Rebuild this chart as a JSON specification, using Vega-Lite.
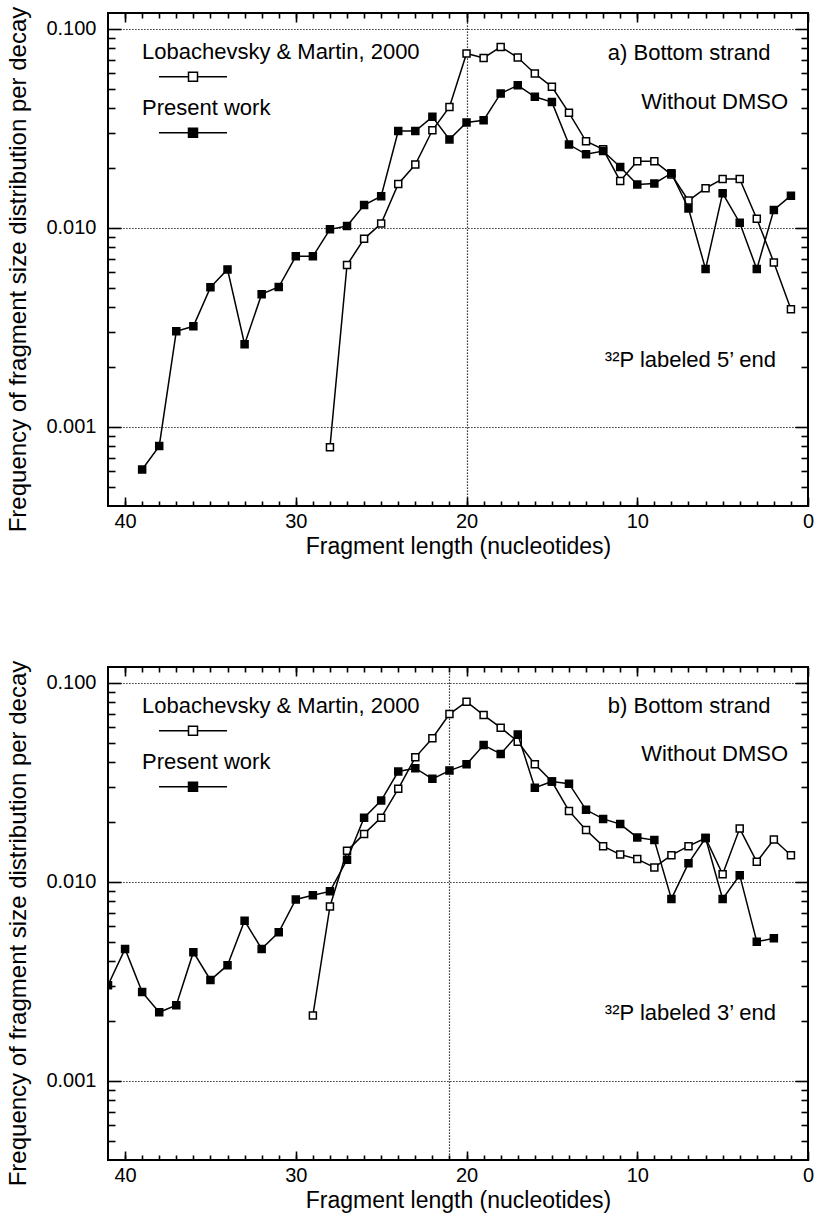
{
  "$schema": "https://vega.github.io/schema/vega-lite/v6.json",
  "background": "white",
  "padding": {"left": 5, "top": 5, "right": 5, "bottom": 3},
  "spacing": 100,
  "config": {
    "font": "Liberation Sans",
    "view": {"stroke": "black", "strokeWidth": 2},
    "axis": {
      "labelFont": "Liberation Sans",
      "titleFont": "Liberation Sans",
      "labelColor": "black",
      "titleColor": "black",
      "tickColor": "black",
      "tickWidth": 1.6,
      "ticks": true,
      "domain": false,
      "grid": false,
      "labelFontSize": 20,
      "titleFontSize": 23,
      "titleFontWeight": "normal",
      "labelFlush": false,
      "labelOverlap": false
    },
    "text": {"font": "Liberation Sans", "fontSize": 22, "color": "black"}
  },
  "datasets": {
    "a": [
      {"len": 28, "freq": 0.00079, "series": "Lobachevsky & Martin, 2000"},
      {"len": 27, "freq": 0.0065, "series": "Lobachevsky & Martin, 2000"},
      {"len": 26, "freq": 0.0088, "series": "Lobachevsky & Martin, 2000"},
      {"len": 25, "freq": 0.0105, "series": "Lobachevsky & Martin, 2000"},
      {"len": 24, "freq": 0.0166, "series": "Lobachevsky & Martin, 2000"},
      {"len": 23, "freq": 0.0208, "series": "Lobachevsky & Martin, 2000"},
      {"len": 22, "freq": 0.0309, "series": "Lobachevsky & Martin, 2000"},
      {"len": 21, "freq": 0.0405, "series": "Lobachevsky & Martin, 2000"},
      {"len": 20, "freq": 0.0751, "series": "Lobachevsky & Martin, 2000"},
      {"len": 19, "freq": 0.0714, "series": "Lobachevsky & Martin, 2000"},
      {"len": 18, "freq": 0.081, "series": "Lobachevsky & Martin, 2000"},
      {"len": 17, "freq": 0.0717, "series": "Lobachevsky & Martin, 2000"},
      {"len": 16, "freq": 0.0596, "series": "Lobachevsky & Martin, 2000"},
      {"len": 15, "freq": 0.0511, "series": "Lobachevsky & Martin, 2000"},
      {"len": 14, "freq": 0.0378, "series": "Lobachevsky & Martin, 2000"},
      {"len": 13, "freq": 0.0272, "series": "Lobachevsky & Martin, 2000"},
      {"len": 12, "freq": 0.0248, "series": "Lobachevsky & Martin, 2000"},
      {"len": 11, "freq": 0.0172, "series": "Lobachevsky & Martin, 2000"},
      {"len": 10, "freq": 0.0216, "series": "Lobachevsky & Martin, 2000"},
      {"len": 9, "freq": 0.0216, "series": "Lobachevsky & Martin, 2000"},
      {"len": 8, "freq": 0.0185, "series": "Lobachevsky & Martin, 2000"},
      {"len": 7, "freq": 0.0137, "series": "Lobachevsky & Martin, 2000"},
      {"len": 6, "freq": 0.0158, "series": "Lobachevsky & Martin, 2000"},
      {"len": 5, "freq": 0.0176, "series": "Lobachevsky & Martin, 2000"},
      {"len": 4, "freq": 0.0176, "series": "Lobachevsky & Martin, 2000"},
      {"len": 3, "freq": 0.0111, "series": "Lobachevsky & Martin, 2000"},
      {"len": 2, "freq": 0.0067, "series": "Lobachevsky & Martin, 2000"},
      {"len": 1, "freq": 0.0039, "series": "Lobachevsky & Martin, 2000"},
      {"len": 39, "freq": 0.00061, "series": "Present work"},
      {"len": 38, "freq": 0.0008, "series": "Present work"},
      {"len": 37, "freq": 0.00302, "series": "Present work"},
      {"len": 36, "freq": 0.0032, "series": "Present work"},
      {"len": 35, "freq": 0.00502, "series": "Present work"},
      {"len": 34, "freq": 0.00618, "series": "Present work"},
      {"len": 33, "freq": 0.0026, "series": "Present work"},
      {"len": 32, "freq": 0.00464, "series": "Present work"},
      {"len": 31, "freq": 0.00504, "series": "Present work"},
      {"len": 30, "freq": 0.00719, "series": "Present work"},
      {"len": 29, "freq": 0.00719, "series": "Present work"},
      {"len": 28, "freq": 0.00982, "series": "Present work"},
      {"len": 27, "freq": 0.0102, "series": "Present work"},
      {"len": 26, "freq": 0.013, "series": "Present work"},
      {"len": 25, "freq": 0.0144, "series": "Present work"},
      {"len": 24, "freq": 0.0306, "series": "Present work"},
      {"len": 23, "freq": 0.0306, "series": "Present work"},
      {"len": 22, "freq": 0.0361, "series": "Present work"},
      {"len": 21, "freq": 0.0278, "series": "Present work"},
      {"len": 20, "freq": 0.0338, "series": "Present work"},
      {"len": 19, "freq": 0.0347, "series": "Present work"},
      {"len": 18, "freq": 0.0473, "series": "Present work"},
      {"len": 17, "freq": 0.052, "series": "Present work"},
      {"len": 16, "freq": 0.0455, "series": "Present work"},
      {"len": 15, "freq": 0.0428, "series": "Present work"},
      {"len": 14, "freq": 0.0262, "series": "Present work"},
      {"len": 13, "freq": 0.0234, "series": "Present work"},
      {"len": 12, "freq": 0.0243, "series": "Present work"},
      {"len": 11, "freq": 0.0202, "series": "Present work"},
      {"len": 10, "freq": 0.0165, "series": "Present work"},
      {"len": 9, "freq": 0.0167, "series": "Present work"},
      {"len": 8, "freq": 0.0188, "series": "Present work"},
      {"len": 7, "freq": 0.0125, "series": "Present work"},
      {"len": 6, "freq": 0.0062, "series": "Present work"},
      {"len": 5, "freq": 0.0149, "series": "Present work"},
      {"len": 4, "freq": 0.0106, "series": "Present work"},
      {"len": 3, "freq": 0.0062, "series": "Present work"},
      {"len": 2, "freq": 0.0123, "series": "Present work"},
      {"len": 1, "freq": 0.0145, "series": "Present work"}
    ],
    "b": [
      {"len": 29, "freq": 0.00213, "series": "Lobachevsky & Martin, 2000"},
      {"len": 28, "freq": 0.00752, "series": "Lobachevsky & Martin, 2000"},
      {"len": 27, "freq": 0.0143, "series": "Lobachevsky & Martin, 2000"},
      {"len": 26, "freq": 0.0174, "series": "Lobachevsky & Martin, 2000"},
      {"len": 25, "freq": 0.021, "series": "Lobachevsky & Martin, 2000"},
      {"len": 24, "freq": 0.0293, "series": "Lobachevsky & Martin, 2000"},
      {"len": 23, "freq": 0.0422, "series": "Lobachevsky & Martin, 2000"},
      {"len": 22, "freq": 0.0526, "series": "Lobachevsky & Martin, 2000"},
      {"len": 21, "freq": 0.0696, "series": "Lobachevsky & Martin, 2000"},
      {"len": 20, "freq": 0.0803, "series": "Lobachevsky & Martin, 2000"},
      {"len": 19, "freq": 0.0688, "series": "Lobachevsky & Martin, 2000"},
      {"len": 18, "freq": 0.0595, "series": "Lobachevsky & Martin, 2000"},
      {"len": 17, "freq": 0.0506, "series": "Lobachevsky & Martin, 2000"},
      {"len": 16, "freq": 0.0389, "series": "Lobachevsky & Martin, 2000"},
      {"len": 15, "freq": 0.0319, "series": "Lobachevsky & Martin, 2000"},
      {"len": 14, "freq": 0.0227, "series": "Lobachevsky & Martin, 2000"},
      {"len": 13, "freq": 0.0182, "series": "Lobachevsky & Martin, 2000"},
      {"len": 12, "freq": 0.0151, "series": "Lobachevsky & Martin, 2000"},
      {"len": 11, "freq": 0.0137, "series": "Lobachevsky & Martin, 2000"},
      {"len": 10, "freq": 0.013, "series": "Lobachevsky & Martin, 2000"},
      {"len": 9, "freq": 0.0118, "series": "Lobachevsky & Martin, 2000"},
      {"len": 8, "freq": 0.0136, "series": "Lobachevsky & Martin, 2000"},
      {"len": 7, "freq": 0.0151, "series": "Lobachevsky & Martin, 2000"},
      {"len": 6, "freq": 0.0166, "series": "Lobachevsky & Martin, 2000"},
      {"len": 5, "freq": 0.0109, "series": "Lobachevsky & Martin, 2000"},
      {"len": 4, "freq": 0.0185, "series": "Lobachevsky & Martin, 2000"},
      {"len": 3, "freq": 0.0126, "series": "Lobachevsky & Martin, 2000"},
      {"len": 2, "freq": 0.0163, "series": "Lobachevsky & Martin, 2000"},
      {"len": 1, "freq": 0.0136, "series": "Lobachevsky & Martin, 2000"},
      {"len": 41, "freq": 0.00302, "series": "Present work"},
      {"len": 40, "freq": 0.0046, "series": "Present work"},
      {"len": 39, "freq": 0.00279, "series": "Present work"},
      {"len": 38, "freq": 0.00221, "series": "Present work"},
      {"len": 37, "freq": 0.0024, "series": "Present work"},
      {"len": 36, "freq": 0.00443, "series": "Present work"},
      {"len": 35, "freq": 0.00321, "series": "Present work"},
      {"len": 34, "freq": 0.00381, "series": "Present work"},
      {"len": 33, "freq": 0.00637, "series": "Present work"},
      {"len": 32, "freq": 0.0046, "series": "Present work"},
      {"len": 31, "freq": 0.00557, "series": "Present work"},
      {"len": 30, "freq": 0.00815, "series": "Present work"},
      {"len": 29, "freq": 0.00855, "series": "Present work"},
      {"len": 28, "freq": 0.00895, "series": "Present work"},
      {"len": 27, "freq": 0.0129, "series": "Present work"},
      {"len": 26, "freq": 0.021, "series": "Present work"},
      {"len": 25, "freq": 0.0256, "series": "Present work"},
      {"len": 24, "freq": 0.0358, "series": "Present work"},
      {"len": 23, "freq": 0.0372, "series": "Present work"},
      {"len": 22, "freq": 0.0329, "series": "Present work"},
      {"len": 21, "freq": 0.0362, "series": "Present work"},
      {"len": 20, "freq": 0.0389, "series": "Present work"},
      {"len": 19, "freq": 0.0486, "series": "Present work"},
      {"len": 18, "freq": 0.0439, "series": "Present work"},
      {"len": 17, "freq": 0.055, "series": "Present work"},
      {"len": 16, "freq": 0.0297, "series": "Present work"},
      {"len": 15, "freq": 0.0319, "series": "Present work"},
      {"len": 14, "freq": 0.0311, "series": "Present work"},
      {"len": 13, "freq": 0.023, "series": "Present work"},
      {"len": 12, "freq": 0.0207, "series": "Present work"},
      {"len": 11, "freq": 0.0195, "series": "Present work"},
      {"len": 10, "freq": 0.0167, "series": "Present work"},
      {"len": 9, "freq": 0.0162, "series": "Present work"},
      {"len": 8, "freq": 0.0082, "series": "Present work"},
      {"len": 7, "freq": 0.0124, "series": "Present work"},
      {"len": 6, "freq": 0.0166, "series": "Present work"},
      {"len": 5, "freq": 0.0082, "series": "Present work"},
      {"len": 4, "freq": 0.0108, "series": "Present work"},
      {"len": 3, "freq": 0.005, "series": "Present work"},
      {"len": 2, "freq": 0.0052, "series": "Present work"}
    ]
  },
  "resolve": {"scale": {"fill": "independent"}, "legend": {"fill": "independent"}},
  "vconcat": [
    {
      "width": 700,
      "height": 493,
      "data": {"name": "a"},
      "resolve": {"axis": {"x": "independent", "y": "independent"}},
      "layer": [
        {
          "transform": [{"filter": "datum.series === 'Lobachevsky & Martin, 2000'"}],
          "mark": {"type": "line", "color": "black", "strokeWidth": 1.5, "clip": true},
          "encoding": {
            "x": {"field": "len", "type": "quantitative", "scale": {"domain": [0, 41], "reverse": true, "nice": false, "zero": false},
              "axis": {"orient": "bottom", "values": [0, 10, 20, 30, 40], "offset": -9, "tickSize": 9, "labelPadding": 5, "title": "Fragment length (nucleotides)", "titlePadding": 4}},
            "y": {"field": "freq", "type": "quantitative", "scale": {"type": "log", "domain": [0.0004, 0.12], "nice": false},
              "axis": {"orient": "left", "values": [0.001, 0.01, 0.1], "format": ".3f", "offset": -13, "tickSize": 13, "labelPadding": 12, "title": "Frequency of fragment size distribution per decay", "titleFontSize": 24, "titleY": 256, "titlePadding": 15, "grid": true, "gridColor": "black", "gridDash": [1.2, 1.8], "gridWidth": 1.2}}
          }
        },
        {
          "transform": [{"filter": "datum.series === 'Lobachevsky & Martin, 2000'"}],
          "mark": {"type": "point", "shape": "square", "filled": true, "stroke": "black", "strokeWidth": 1.5, "size": 49, "opacity": 1, "clip": true},
          "encoding": {
            "x": {"field": "len", "type": "quantitative", "scale": {"domain": [0, 41], "reverse": true, "nice": false, "zero": false},
              "axis": {"orient": "bottom", "values": [1,2,3,4,5,6,7,8,9,10,11,12,13,14,15,16,17,18,19,20,21,22,23,24,25,26,27,28,29,30,31,32,33,34,35,36,37,38,39,40], "offset": -5, "tickSize": 5, "labels": false, "title": null, "grid": true, "gridColor": "black", "gridDash": [1.2, 1.8], "gridWidth": 1.2, "gridOpacity": {"condition": {"test": "datum.value === 20", "value": 1}, "value": 0}}},
            "y": {"field": "freq", "type": "quantitative", "scale": {"type": "log", "domain": [0.0004, 0.12], "nice": false},
              "axis": {"orient": "left", "values": [0.0005,0.0006,0.0007,0.0008,0.0009,0.002,0.003,0.004,0.005,0.006,0.007,0.008,0.009,0.02,0.03,0.04,0.05,0.06,0.07,0.08,0.09], "offset": -7, "tickSize": 7, "labels": false, "title": null}},
            "fill": {"field": "series", "type": "nominal",
              "scale": {"domain": ["Lobachevsky & Martin, 2000", "Present work"], "range": ["white", "black"]},
              "legend": {"orient": "none", "legendX": 74, "legendY": 35, "title": null, "padding": 0, "symbolType": "M-3.4,1.77H-0.45M0.45,1.77H3.4M-0.45,1.32H0.45V2.22H-0.45Z", "symbolSize": 400, "symbolStrokeWidth": 1.5, "symbolStrokeColor": "black", "labelFont": "Liberation Sans", "labelFontSize": 22, "labelColor": "black", "labelOffset": -62, "labelBaseline": "alphabetic", "labelLimit": 400, "rowPadding": 12}}
          }
        },
        {
          "transform": [{"filter": "datum.series === 'Present work'"}],
          "mark": {"type": "line", "color": "black", "strokeWidth": 1.5, "clip": true},
          "encoding": {
            "x": {"field": "len", "type": "quantitative", "scale": {"domain": [0, 41], "reverse": true, "nice": false, "zero": false},
              "axis": {"orient": "top", "values": [0, 10, 20, 30, 40], "offset": -9, "tickSize": 9, "labels": false, "title": null}},
            "y": {"field": "freq", "type": "quantitative", "scale": {"type": "log", "domain": [0.0004, 0.12], "nice": false},
              "axis": {"orient": "right", "values": [0.001, 0.01, 0.1], "offset": -13, "tickSize": 13, "labels": false, "title": null}}
          }
        },
        {
          "transform": [{"filter": "datum.series === 'Present work'"}],
          "mark": {"type": "point", "shape": "square", "filled": true, "stroke": "black", "strokeWidth": 1.5, "size": 49, "opacity": 1, "clip": true},
          "encoding": {
            "x": {"field": "len", "type": "quantitative", "scale": {"domain": [0, 41], "reverse": true, "nice": false, "zero": false},
              "axis": {"orient": "top", "values": [1,2,3,4,5,6,7,8,9,10,11,12,13,14,15,16,17,18,19,20,21,22,23,24,25,26,27,28,29,30,31,32,33,34,35,36,37,38,39,40], "offset": -5, "tickSize": 5, "labels": false, "title": null}},
            "y": {"field": "freq", "type": "quantitative", "scale": {"type": "log", "domain": [0.0004, 0.12], "nice": false},
              "axis": {"orient": "right", "values": [0.0005,0.0006,0.0007,0.0008,0.0009,0.002,0.003,0.004,0.005,0.006,0.007,0.008,0.009,0.02,0.03,0.04,0.05,0.06,0.07,0.08,0.09], "offset": -7, "tickSize": 7, "labels": false, "title": null}},
            "fill": {"field": "series", "type": "nominal",
              "scale": {"domain": ["Lobachevsky & Martin, 2000", "Present work"], "range": ["white", "black"]},
              "legend": {"orient": "none", "legendX": 74, "legendY": 35, "title": null, "padding": 0, "symbolType": "M-3.4,1.77H-0.45M0.45,1.77H3.4M-0.45,1.32H0.45V2.22H-0.45Z", "symbolSize": 400, "symbolStrokeWidth": 1.5, "symbolStrokeColor": "black", "labelFont": "Liberation Sans", "labelFontSize": 22, "labelColor": "black", "labelOffset": -62, "labelBaseline": "alphabetic", "labelLimit": 400, "rowPadding": 12}}
          }
        },
        {
          "data": {"values": [{}]},
          "mark": {"type": "text", "align": "right", "baseline": "alphabetic"},
          "encoding": {
            "x": {"datum": 2.2, "type": "quantitative", "scale": {"domain": [0, 41], "reverse": true, "nice": false, "zero": false}, "axis": null},
            "y": {"datum": 0.0695, "type": "quantitative", "scale": {"type": "log", "domain": [0.0004, 0.12], "nice": false}, "axis": null},
            "text": {"value": "a) Bottom strand"}
          }
        },
        {
          "data": {"values": [{}]},
          "mark": {"type": "text", "align": "right", "baseline": "alphabetic"},
          "encoding": {
            "x": {"datum": 1.17, "type": "quantitative", "scale": {"domain": [0, 41], "reverse": true, "nice": false, "zero": false}, "axis": null},
            "y": {"datum": 0.0394, "type": "quantitative", "scale": {"type": "log", "domain": [0.0004, 0.12], "nice": false}, "axis": null},
            "text": {"value": "Without DMSO"}
          }
        },
        {
          "data": {"values": [{}]},
          "mark": {"type": "text", "align": "right", "baseline": "alphabetic"},
          "encoding": {
            "x": {"datum": 1.87, "type": "quantitative", "scale": {"domain": [0, 41], "reverse": true, "nice": false, "zero": false}, "axis": null},
            "y": {"datum": 0.002, "type": "quantitative", "scale": {"type": "log", "domain": [0.0004, 0.12], "nice": false}, "axis": null},
            "text": {"value": "³²P labeled 5’ end"}
          }
        }
      ]
    },
    {
      "width": 700,
      "height": 493,
      "data": {"name": "b"},
      "resolve": {"axis": {"x": "independent", "y": "independent"}},
      "layer": [
        {
          "transform": [{"filter": "datum.series === 'Lobachevsky & Martin, 2000'"}],
          "mark": {"type": "line", "color": "black", "strokeWidth": 1.5, "clip": true},
          "encoding": {
            "x": {"field": "len", "type": "quantitative", "scale": {"domain": [0, 41], "reverse": true, "nice": false, "zero": false},
              "axis": {"orient": "bottom", "values": [0, 10, 20, 30, 40], "offset": -9, "tickSize": 9, "labelPadding": 5, "title": "Fragment length (nucleotides)", "titlePadding": 4}},
            "y": {"field": "freq", "type": "quantitative", "scale": {"type": "log", "domain": [0.0004, 0.12], "nice": false},
              "axis": {"orient": "left", "values": [0.001, 0.01, 0.1], "format": ".3f", "offset": -13, "tickSize": 13, "labelPadding": 12, "title": "Frequency of fragment size distribution per decay", "titleFontSize": 24, "titleY": 256, "titlePadding": 15, "grid": true, "gridColor": "black", "gridDash": [1.2, 1.8], "gridWidth": 1.2}}
          }
        },
        {
          "transform": [{"filter": "datum.series === 'Lobachevsky & Martin, 2000'"}],
          "mark": {"type": "point", "shape": "square", "filled": true, "stroke": "black", "strokeWidth": 1.5, "size": 49, "opacity": 1, "clip": true},
          "encoding": {
            "x": {"field": "len", "type": "quantitative", "scale": {"domain": [0, 41], "reverse": true, "nice": false, "zero": false},
              "axis": {"orient": "bottom", "values": [1,2,3,4,5,6,7,8,9,10,11,12,13,14,15,16,17,18,19,20,21,22,23,24,25,26,27,28,29,30,31,32,33,34,35,36,37,38,39,40], "offset": -5, "tickSize": 5, "labels": false, "title": null, "grid": true, "gridColor": "black", "gridDash": [1.2, 1.8], "gridWidth": 1.2, "gridOpacity": {"condition": {"test": "datum.value === 21", "value": 1}, "value": 0}}},
            "y": {"field": "freq", "type": "quantitative", "scale": {"type": "log", "domain": [0.0004, 0.12], "nice": false},
              "axis": {"orient": "left", "values": [0.0005,0.0006,0.0007,0.0008,0.0009,0.002,0.003,0.004,0.005,0.006,0.007,0.008,0.009,0.02,0.03,0.04,0.05,0.06,0.07,0.08,0.09], "offset": -7, "tickSize": 7, "labels": false, "title": null}},
            "fill": {"field": "series", "type": "nominal",
              "scale": {"domain": ["Lobachevsky & Martin, 2000", "Present work"], "range": ["white", "black"]},
              "legend": {"orient": "none", "legendX": 74, "legendY": 35, "title": null, "padding": 0, "symbolType": "M-3.4,1.77H-0.45M0.45,1.77H3.4M-0.45,1.32H0.45V2.22H-0.45Z", "symbolSize": 400, "symbolStrokeWidth": 1.5, "symbolStrokeColor": "black", "labelFont": "Liberation Sans", "labelFontSize": 22, "labelColor": "black", "labelOffset": -62, "labelBaseline": "alphabetic", "labelLimit": 400, "rowPadding": 12}}
          }
        },
        {
          "transform": [{"filter": "datum.series === 'Present work'"}],
          "mark": {"type": "line", "color": "black", "strokeWidth": 1.5, "clip": true},
          "encoding": {
            "x": {"field": "len", "type": "quantitative", "scale": {"domain": [0, 41], "reverse": true, "nice": false, "zero": false},
              "axis": {"orient": "top", "values": [0, 10, 20, 30, 40], "offset": -9, "tickSize": 9, "labels": false, "title": null}},
            "y": {"field": "freq", "type": "quantitative", "scale": {"type": "log", "domain": [0.0004, 0.12], "nice": false},
              "axis": {"orient": "right", "values": [0.001, 0.01, 0.1], "offset": -13, "tickSize": 13, "labels": false, "title": null}}
          }
        },
        {
          "transform": [{"filter": "datum.series === 'Present work'"}],
          "mark": {"type": "point", "shape": "square", "filled": true, "stroke": "black", "strokeWidth": 1.5, "size": 49, "opacity": 1, "clip": true},
          "encoding": {
            "x": {"field": "len", "type": "quantitative", "scale": {"domain": [0, 41], "reverse": true, "nice": false, "zero": false},
              "axis": {"orient": "top", "values": [1,2,3,4,5,6,7,8,9,10,11,12,13,14,15,16,17,18,19,20,21,22,23,24,25,26,27,28,29,30,31,32,33,34,35,36,37,38,39,40], "offset": -5, "tickSize": 5, "labels": false, "title": null}},
            "y": {"field": "freq", "type": "quantitative", "scale": {"type": "log", "domain": [0.0004, 0.12], "nice": false},
              "axis": {"orient": "right", "values": [0.0005,0.0006,0.0007,0.0008,0.0009,0.002,0.003,0.004,0.005,0.006,0.007,0.008,0.009,0.02,0.03,0.04,0.05,0.06,0.07,0.08,0.09], "offset": -7, "tickSize": 7, "labels": false, "title": null}},
            "fill": {"field": "series", "type": "nominal",
              "scale": {"domain": ["Lobachevsky & Martin, 2000", "Present work"], "range": ["white", "black"]},
              "legend": {"orient": "none", "legendX": 74, "legendY": 35, "title": null, "padding": 0, "symbolType": "M-3.4,1.77H-0.45M0.45,1.77H3.4M-0.45,1.32H0.45V2.22H-0.45Z", "symbolSize": 400, "symbolStrokeWidth": 1.5, "symbolStrokeColor": "black", "labelFont": "Liberation Sans", "labelFontSize": 22, "labelColor": "black", "labelOffset": -62, "labelBaseline": "alphabetic", "labelLimit": 400, "rowPadding": 12}}
          }
        },
        {
          "data": {"values": [{}]},
          "mark": {"type": "text", "align": "right", "baseline": "alphabetic"},
          "encoding": {
            "x": {"datum": 2.2, "type": "quantitative", "scale": {"domain": [0, 41], "reverse": true, "nice": false, "zero": false}, "axis": null},
            "y": {"datum": 0.0702, "type": "quantitative", "scale": {"type": "log", "domain": [0.0004, 0.12], "nice": false}, "axis": null},
            "text": {"value": "b) Bottom strand"}
          }
        },
        {
          "data": {"values": [{}]},
          "mark": {"type": "text", "align": "right", "baseline": "alphabetic"},
          "encoding": {
            "x": {"datum": 1.17, "type": "quantitative", "scale": {"domain": [0, 41], "reverse": true, "nice": false, "zero": false}, "axis": null},
            "y": {"datum": 0.0403, "type": "quantitative", "scale": {"type": "log", "domain": [0.0004, 0.12], "nice": false}, "axis": null},
            "text": {"value": "Without DMSO"}
          }
        },
        {
          "data": {"values": [{}]},
          "mark": {"type": "text", "align": "right", "baseline": "alphabetic"},
          "encoding": {
            "x": {"datum": 1.87, "type": "quantitative", "scale": {"domain": [0, 41], "reverse": true, "nice": false, "zero": false}, "axis": null},
            "y": {"datum": 0.00201, "type": "quantitative", "scale": {"type": "log", "domain": [0.0004, 0.12], "nice": false}, "axis": null},
            "text": {"value": "³²P labeled 3’ end"}
          }
        }
      ]
    }
  ]
}
